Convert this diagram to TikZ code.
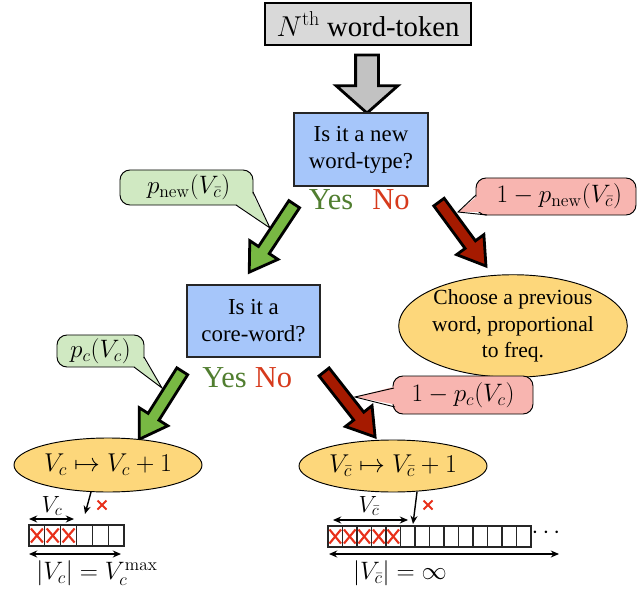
\RequirePackage{fix-cm}
\documentclass[tikz,border=0pt]{standalone}
\usepackage[no-math]{fontspec}
\setmainfont{Liberation Serif}
\usetikzlibrary{shapes.geometric,shapes.arrows,arrows.meta,calc}
\definecolor{boxgray}{HTML}{D9D9D9}
\definecolor{arrgray}{HTML}{C2C2C2}
\definecolor{qblue}{HTML}{A6C6FA}
\definecolor{bgreen}{HTML}{D0E9C2}
\definecolor{bpink}{HTML}{F8B5B0}
\definecolor{oyellow}{HTML}{FDD77B}
\definecolor{agreen}{HTML}{78B843}
\definecolor{ared}{HTML}{A51A00}
\definecolor{yesgreen}{HTML}{517E30}
\definecolor{nored}{HTML}{D63A1C}
\definecolor{xred}{HTML}{E8301A}
\begin{document}
\begin{tikzpicture}[x=0.03cm,y=-0.03cm,
  question/.style={draw=black!85, line width=0.9pt, fill=qblue, align=center,
    font=\fontsize{19.5}{23}\selectfont, inner sep=0pt},
  yesno/.style={anchor=base, font=\fontsize{26}{30}\selectfont},
  bubble/.style={draw=black, line width=0.8pt, rounded corners=0.3cm,
    font=\fontsize{21.5}{25}\selectfont, inner sep=0pt},
  oval/.style={ellipse, draw=black, line width=0.8pt, fill=oyellow, inner sep=0pt},
  blockarr/.style={single arrow, draw=black, line width=2.4pt, inner xsep=0pt,
    inner ysep=0.15cm, single arrow head extend=0.315cm, single arrow tip angle=65},
  dimarr/.style={{Stealth[length=7pt,width=6pt]}-{Stealth[length=7pt,width=6pt]}, line width=1.2pt},
  ptr/.style={-{Stealth[length=7pt,width=6pt]}, line width=1.2pt},
  redx/.style={draw=xred, line width=1.8pt},
  cell/.style={draw=black!85, line width=0.9pt},
  dimlabel/.style={font=\fontsize{20}{24}\selectfont},
  sizelabel/.style={font=\fontsize{21.5}{26}\selectfont}
]
\useasboundingbox (0,0) rectangle (638,592);

% top box and big arrow
\node[draw=black, line width=2.4pt, fill=boxgray, minimum width=6.18cm, minimum height=1.26cm,
  inner sep=0pt, font=\fontsize{24.5}{28}\selectfont] (top) at (368,24) {$N^{\mathrm{th}}$ word-token};
\node[single arrow, draw=black, line width=2.4pt, fill=arrgray, inner xsep=0pt, inner ysep=0.3cm,
  single arrow head extend=0.585cm, single arrow tip angle=97, minimum height=1.74cm,
  rotate=-90] (down) at (367,79) {};

% first question
\node[question, minimum width=4.02cm, minimum height=2.19cm] (q1) at (361,149.5)
  {Is it a new\\word-type?};
\node[yesno, text=yesgreen] (yes1) at (331,210) {Yes};
\node[yesno, text=nored] (no1) at (391,210) {No};

% bubbles of first question
\node[bubble, fill=bgreen, minimum width=3.99cm, minimum height=1.05cm] (gb1) at (186.5,187.5)
  {\,$p_{\mathrm{new}}(V_{\bar c})$};
\fill[bgreen] (233,202) -- (270,228) -- (250,189) -- cycle;
\draw[line width=0.8pt] (236,205) -- (270,228) -- (253,192);

\node[bubble, fill=bpink, minimum width=4.8cm, minimum height=1.11cm] (pb1) at (556,196.5)
  {\hspace{0.2cm}$1-p_{\mathrm{new}}(V_{\bar c})$};
\fill[bpink] (480,194) -- (458,212) -- (490,212) -- cycle;
\draw[line width=0.8pt] (476,195) -- (458,212) -- (487,215);

% block arrows of first question
\node[blockarr, fill=agreen, minimum height=2.445cm, rotate=236.5] (ga1) at (274.5,234) {};
\node[blockarr, fill=ared, minimum height=2.38cm, rotate=-53.7] (ra1) at (459.5,230) {};

% second question
\node[question, minimum width=3.99cm, minimum height=2.16cm] (q2) at (253.5,321)
  {Is it a\\core-word?};
\node[yesno, text=yesgreen] (yes2) at (224.5,387) {Yes};
\node[yesno, text=nored] (no2) at (273.5,387) {No};

\node[oval, minimum width=6.78cm, minimum height=2.52cm, align=center,
  font=\fontsize{18.4}{22.6}\selectfont] (prev) at (513,326)
  {Choose a previous\\word, proportional\\to freq.};

% bubbles of second question
\node[bubble, fill=bgreen, minimum width=2.61cm, minimum height=0.96cm] (gb2) at (100.5,351)
  {$p_c(V_c)$};
\fill[bgreen] (131,364) -- (162,388) -- (141,354) -- cycle;
\draw[line width=0.8pt] (134,367) -- (162,388) -- (144,357);

\node[bubble, fill=bpink, minimum width=4.2cm, minimum height=1.14cm] (pb2) at (463,395)
  {$1-p_c(V_c)$};
\fill[bpink] (397,386) -- (355,397) -- (398,405) -- cycle;
\draw[line width=0.8pt] (394,388) -- (355,397) -- (395,407);

% block arrows of second question
\node[blockarr, fill=agreen, minimum height=2.41cm, rotate=237.7] (ga2) at (163.5,401) {};
\node[blockarr, fill=ared, minimum height=2.48cm, rotate=-51.9] (ra2) at (346.5,400.5) {};

% outcome ellipses
\node[oval, minimum width=5.64cm, minimum height=1.62cm, font=\fontsize{22}{26}\selectfont]
  (inc1) at (108,465) {$V_c \mapsto V_c + 1$};
\node[oval, minimum width=5.64cm, minimum height=1.56cm, font=\fontsize{22}{26}\selectfont]
  (inc2) at (393,466) {$V_{\bar c} \mapsto V_{\bar c} + 1$};

% left array
\foreach \i in {0,...,5} \draw[cell] ({29+\i*15.83},525) rectangle ++(15.83,21);
\foreach \i in {0,1,2} {
  \draw[redx] ({29+\i*15.83+1.9},528.5) -- ++(12,14);
  \draw[redx] ({29+\i*15.83+1.9},542.5) -- ++(12,-14);
}
\coordinate (s1) at (91,492);
\coordinate (e1) at (85,514);
\draw[ptr] (s1) -- (e1);
\draw[redx, line width=1.6pt] (97.5,500.5) -- ++(9,9) (97.5,509.5) -- ++(9,-9);
\coordinate (va1) at (29,519);
\coordinate (vb1) at (74,519);
\draw[dimarr] (va1) -- (vb1);
\node[dimlabel] (lv1) at (52,506) {$V_c$};
\coordinate (wa1) at (29,554);
\coordinate (wb1) at (121,554);
\draw[dimarr] (wa1) -- (wb1);
\node[sizelabel] (lw1) at (97,573) {$|V_c| = V_c^{\max}$};

% right array
\foreach \i in {0,...,13} \draw[cell] ({328+\i*14.5},526) rectangle ++(14.5,21);
\foreach \i in {0,...,4} {
  \draw[redx] ({328+\i*14.5+1.5},529.5) -- ++(11.5,14);
  \draw[redx] ({328+\i*14.5+1.5},543.5) -- ++(11.5,-14);
}
\node[font=\fontsize{21}{24}\selectfont] (dots) at (546,533) {$\cdots$};
\coordinate (s2) at (417,492);
\coordinate (e2) at (413,524);
\draw[ptr] (s2) -- (e2);
\draw[redx, line width=1.6pt] (423.5,500.5) -- ++(9,9) (423.5,509.5) -- ++(9,-9);
\coordinate (va2) at (333,520);
\coordinate (vb2) at (408,520);
\draw[dimarr] (va2) -- (vb2);
\node[dimlabel] (lv2) at (369,506) {$V_{\bar c}$};
\coordinate (wa2) at (329,554);
\coordinate (wb2) at (559,554);
\draw[dimarr] (wa2) -- (wb2);
\node[sizelabel] (lw2) at (400,573) {$|V_{\bar c}| = \infty$};
\end{tikzpicture}
\end{document}
